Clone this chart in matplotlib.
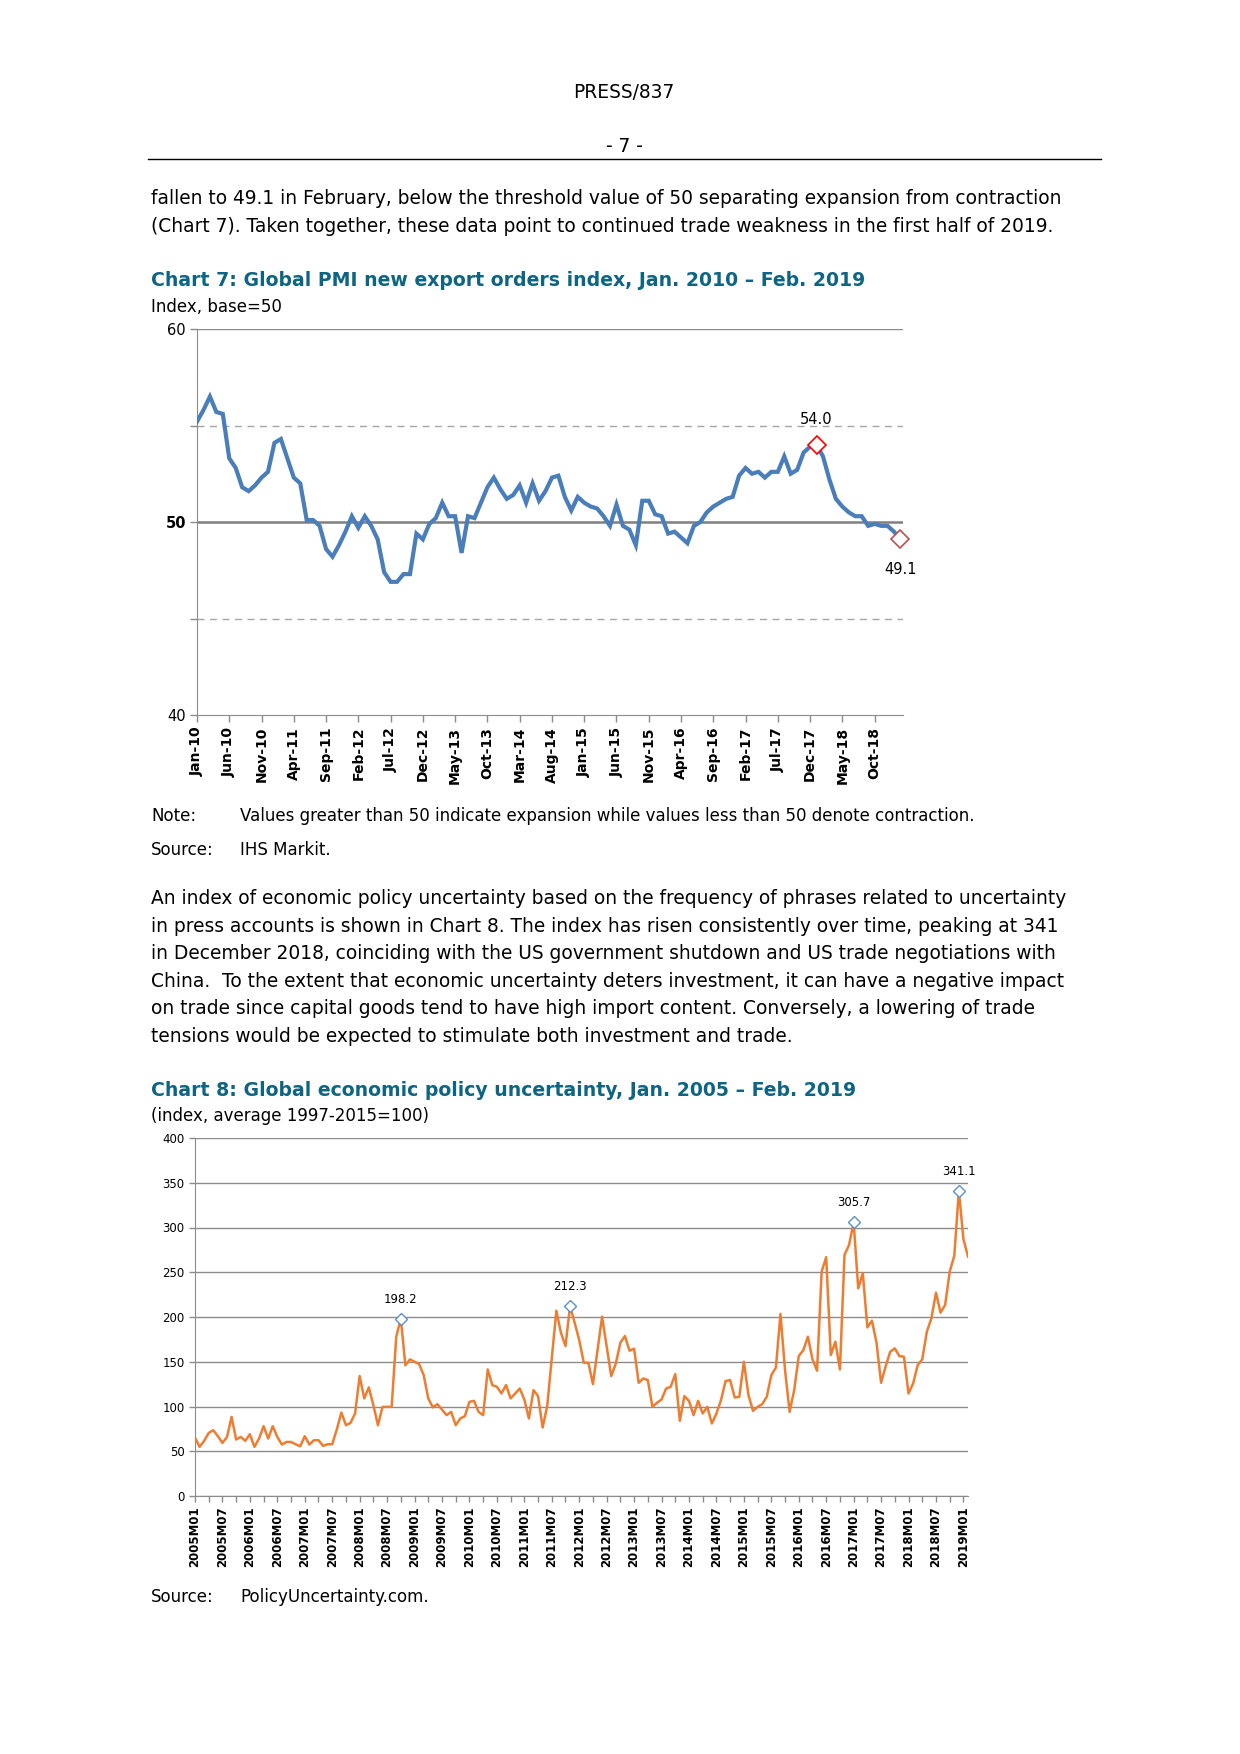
import numpy as np
import pandas as pd
import matplotlib
matplotlib.use('Agg')
import matplotlib.pyplot as plt
from matplotlib.lines import Line2D

W, H = 1240, 1754
TEAL = '#0E6583'

# Chart 7: Global PMI new export orders, Jan 2010 - Feb 2019
pmi_months = pd.date_range('2010-01', '2019-02', freq='MS')
pmi = [55.2, 55.8, 56.5, 55.7, 55.6, 53.3, 52.8, 51.8, 51.6, 51.9, 52.3, 52.6,
       54.1, 54.3, 53.3, 52.3, 52.0, 50.1, 50.1, 49.8, 48.6, 48.2, 48.8, 49.5,
       50.3, 49.7, 50.3, 49.8, 49.1, 47.4, 46.9, 46.9, 47.3, 47.3, 49.4, 49.1,
       49.9, 50.2, 51.0, 50.3, 50.3, 48.4, 50.3, 50.2, 51.0, 51.8, 52.3, 51.7,
       51.2, 51.4, 51.9, 51.0, 52.0, 51.1, 51.6, 52.3, 52.4, 51.3, 50.6, 51.3,
       51.0, 50.8, 50.7, 50.3, 49.8, 50.9, 49.8, 49.6, 48.8, 51.1, 51.1, 50.4,
       50.3, 49.4, 49.5, 49.2, 48.9, 49.8, 50.0, 50.5, 50.8, 51.0, 51.2, 51.3,
       52.4, 52.8, 52.5, 52.6, 52.3, 52.6, 52.6, 53.4, 52.5, 52.7, 53.6, 53.9,
       54.0, 53.4, 52.2, 51.2, 50.8, 50.5, 50.3, 50.3, 49.8, 49.9, 49.8, 49.8,
       49.5, 49.1]
pmi_marks = ['2018-01', '2019-02']

# Chart 8: Global economic policy uncertainty, Jan 2005 - Feb 2019
epu_months = pd.date_range('2005-01', '2019-02', freq='MS')
epu = [65.3, 54.9, 61.6, 70.5, 73.5, 66.8, 59.3, 66.0, 88.4, 63.1, 66.0, 61.6,
       69.0, 54.9, 64.2, 78.0, 64.2, 78.0, 66.0, 57.5, 60.4, 60.4, 57.8, 55.6,
       66.8, 57.5, 62.3, 62.3, 56.0, 57.8, 57.8, 74.3, 93.3, 79.1, 81.7, 92.2,
       134.0, 109.0, 121.3, 101.5, 79.1, 99.6, 99.6, 99.6, 178.0, 198.2, 146.0, 152.6,
       150.0, 147.4, 135.0, 109.0, 99.0, 102.6, 96.6, 90.3, 94.0, 79.1, 86.6, 89.2,
       105.2, 106.3, 94.0, 90.3, 141.4, 123.9, 122.0, 114.6, 123.9, 109.0, 114.6, 120.1,
       107.8, 86.6, 118.3, 111.6, 76.5, 100.4, 153.7, 207.0, 182.5, 167.5, 212.3, 193.7,
       174.3, 148.9, 148.9, 125.0, 163.0, 200.4, 166.8, 134.0, 148.1, 171.3, 178.7, 162.3,
       164.6, 126.5, 131.3, 129.5, 99.6, 104.1, 107.8, 120.1, 122.0, 136.2, 84.0, 111.6,
       106.3, 90.3, 106.3, 92.2, 99.6, 81.0, 92.2, 107.1, 128.4, 129.5, 110.1, 110.8,
       150.0, 112.7, 95.1, 99.6, 102.6, 110.8, 135.0, 143.5, 203.4, 140.7, 94.0, 118.3,
       156.3, 163.0, 178.0, 152.6, 140.0, 250.7, 266.8, 157.5, 172.4, 141.4, 269.4, 280.6,
       305.7, 232.0, 248.9, 188.4, 195.9, 171.3, 126.5, 145.1, 161.2, 164.9, 156.3, 155.6,
       114.6, 125.7, 146.3, 152.6, 183.6, 198.5, 227.2, 204.9, 213.4, 250.7, 268.3, 341.1,
       287.0, 267.5]
epu_marks = ['2008-10', '2011-11', '2017-01', '2018-12']

plt.rcParams['font.family'] = ['DejaVu Sans']
fig = plt.figure(figsize=(W / 100, H / 100), dpi=100)


def put(x, y, s, **kw):
    kw.setdefault('va', 'center')
    fig.text(x / W, 1 - y / H, s, **kw)


def axes_px(left, top, right, bottom):
    return fig.add_axes([left / W, 1 - bottom / H, (right - left) / W, (bottom - top) / H])


BODY = 13.45
SMALL = 12

# page header and text
put(624, 92, 'PRESS/837', ha='center', fontsize=BODY)
put(624, 146, '- 7 -', ha='center', fontsize=BODY)
fig.add_artist(Line2D([148 / W, 1101 / W], [1 - 159 / H] * 2, color='black', lw=1))

para1 = ['fallen to 49.1 in February, below the threshold value of 50 separating expansion from contraction',
         '(Chart 7). Taken together, these data point to continued trade weakness in the first half of 2019.']
for i, line in enumerate(para1):
    put(151, 199 + 27 * i, line, fontsize=BODY)

put(151, 281, 'Chart 7: Global PMI new export orders index, Jan. 2010 \u2013 Feb. 2019',
    fontsize=13.6, fontweight='bold', color=TEAL)
put(151, 307, 'Index, base=50', fontsize=SMALL)

# chart 7
ax1 = axes_px(197, 329, 903, 715)
x1 = np.arange(len(pmi))
ax1.plot(x1, pmi, color='#4A7EBB', lw=3, solid_joinstyle='miter', zorder=3)
for m in pmi_marks:
    i = list(pmi_months.strftime('%Y-%m')).index(m)
    edge = '#FF0000' if m == pmi_marks[0] else '#C0504D'
    ax1.plot(i, pmi[i], marker='D', ms=9, mfc='white', mec=edge, mew=1.2, zorder=4,
             clip_on=False)
    dy = 18 if m == pmi_marks[0] else -22
    ax1.annotate(f'{pmi[i]:.1f}', (i, pmi[i]), xytext=(0, dy), textcoords='offset points',
                 ha='center', va='center', fontsize=10.5)
ax1.set_xlim(0, len(pmi) - 0.6)
ax1.set_ylim(40, 60)
ax1.axhline(60, color='#8C8C8C', lw=1)
ax1.axhline(50, color='#7F7F7F', lw=1.8, zorder=2)
for v in (45, 55):
    ax1.axhline(v, color='#A6A6A6', lw=1, ls=(0, (5, 4)))
ax1.set_yticks([40, 45, 50, 55, 60])
ax1.set_yticklabels(['40', '', '50', '', '60'], fontsize=10.5)
ax1.get_yticklabels()[2].set_fontweight('bold')
ax1.set_xticks(x1[::5])
ax1.set_xticklabels(pmi_months[::5].strftime('%b-%y'), rotation=90, fontsize=10,
                    fontweight='bold')
for side in ('top', 'right'):
    ax1.spines[side].set_visible(False)
for side in ('left', 'bottom'):
    ax1.spines[side].set_color('#8C8C8C')
ax1.tick_params(colors='#8C8C8C', labelcolor='black', length=5, width=1)
ax1.tick_params(axis='y', pad=3)

put(151, 816, 'Note:', fontsize=SMALL)
put(240, 816, 'Values greater than 50 indicate expansion while values less than 50 denote contraction.',
    fontsize=SMALL)
put(151, 850, 'Source:', fontsize=SMALL)
put(240, 850, 'IHS Markit.', fontsize=SMALL)

para2 = ['An index of economic policy uncertainty based on the frequency of phrases related to uncertainty',
         'in press accounts is shown in Chart 8. The index has risen consistently over time, peaking at 341',
         'in December 2018, coinciding with the US government shutdown and US trade negotiations with',
         'China.  To the extent that economic uncertainty deters investment, it can have a negative impact',
         'on trade since capital goods tend to have high import content. Conversely, a lowering of trade',
         'tensions would be expected to stimulate both investment and trade.']
for i, line in enumerate(para2):
    put(151, 899 + 27.4 * i, line, fontsize=BODY)

put(151, 1091, 'Chart 8: Global economic policy uncertainty, Jan. 2005 \u2013 Feb. 2019',
    fontsize=13.6, fontweight='bold', color=TEAL)
put(151, 1116, '(index, average 1997-2015=100)', fontsize=SMALL)

# chart 8
ax2 = axes_px(195, 1138, 968, 1496)
x2 = np.arange(len(epu))
ax2.plot(x2, epu, color='#ED7D31', lw=1.8, zorder=3)
for m in epu_marks:
    i = list(epu_months.strftime('%Y-%m')).index(m)
    ax2.plot(i, epu[i], marker='D', ms=6, mfc='white', mec='#5B8FCF', mew=1, zorder=4)
    ax2.annotate(f'{epu[i]:.1f}', (i, epu[i]), xytext=(0, 14), textcoords='offset points',
                 ha='center', va='center', fontsize=8.5)
ax2.set_xlim(0, len(epu) - 1)
ax2.set_ylim(0, 400)
ax2.set_yticks(np.arange(0, 401, 50))
ax2.tick_params(axis='y', labelsize=8.5)
ax2.yaxis.grid(True, color='#8C8C8C', lw=1)
ax2.set_axisbelow(True)
ax2.set_xticks(x2[::3], minor=True)
ax2.set_xticks(x2[::6])
ax2.set_xticklabels([d.strftime('%Y') + 'M' + d.strftime('%m') for d in epu_months[::6]],
                    rotation=90, fontsize=8.5, fontweight='semibold')
for side in ('top', 'right'):
    ax2.spines[side].set_visible(False)
for side in ('left', 'bottom'):
    ax2.spines[side].set_color('#8C8C8C')
ax2.tick_params(which='both', colors='#8C8C8C', labelcolor='black', length=4, width=1)

put(151, 1597, 'Source:', fontsize=SMALL)
put(240, 1597, 'PolicyUncertainty.com.', fontsize=SMALL)

fig.savefig('out.png', dpi=100)
